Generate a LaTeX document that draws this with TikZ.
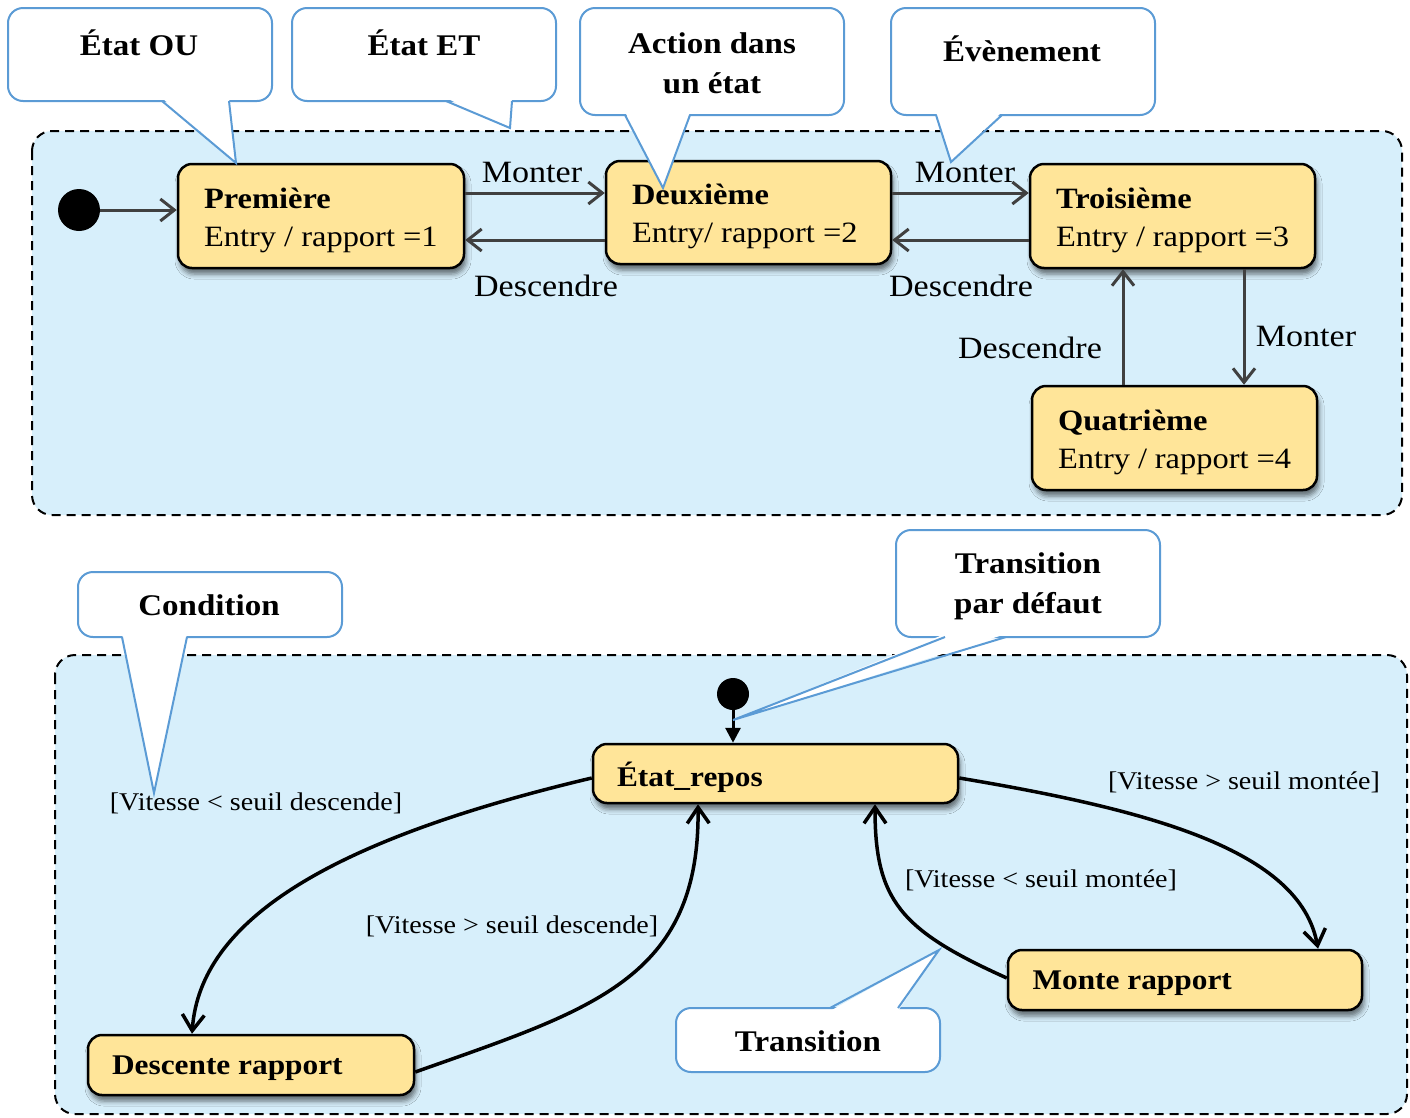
\documentclass[tikz,border=0pt]{standalone}
\usepackage{fontspec}
\setmainfont{Liberation Serif}[FakeStretch=1.1]
\usetikzlibrary{arrows.meta,shadows.blur,calc}

\definecolor{zonebg}{RGB}{215,239,251}
\definecolor{statefill}{RGB}{255,229,153}
\definecolor{callblue}{RGB}{91,155,213}
\definecolor{wire}{RGB}{64,64,64}

\tikzset{
  zonebox/.style={draw=black, line width=2pt, dash pattern=on 9pt off 6pt,
    fill=zonebg, rounded corners=20pt},
  statebox/.style={draw=black, line width=2.5pt, fill=statefill,
    rounded corners=14pt, inner sep=0pt, align=left,
    blur shadow={shadow xshift=2pt, shadow yshift=-6pt,
      shadow blur radius=5pt, shadow opacity=55}},
  callbox/.style={draw=callblue, line width=2pt, fill=white,
    rounded corners=15pt, inner sep=0pt},
  callside/.style={draw=callblue, line width=2pt},
  calltext/.style={font=\fontsize{30}{40}\selectfont\bfseries, align=center},
  evlabel/.style={font=\fontsize{31}{36}\selectfont, inner sep=0pt},
  guard/.style={font=\fontsize{25.5}{30}\selectfont, inner sep=0pt},
  topwire/.style={draw=wire, line width=3pt,
    -{Straight Barb[length=14pt,width=22pt]}},
  botwire/.style={draw=black, line width=3.5pt,
    -{Straight Barb[length=16pt,width=22pt]}},
  initdot/.style={circle, fill=black, inner sep=0pt},
}

% two-line state body: bold name, then entry action
\newcommand{\gearbody}[3]{\begin{minipage}{#1}\vspace*{8pt}\fontsize{29.5}{38}\selectfont\textbf{#2}\\#3\end{minipage}}
% one-line state body
\newcommand{\modebody}[2]{\begin{minipage}{#1}\vspace*{7pt}\fontsize{28.5}{34}\selectfont\textbf{#2}\end{minipage}}

\begin{document}
\begin{tikzpicture}[x=1pt, y=-1pt]
\useasboundingbox (0,0) rectangle (1410,1117);

% ---------- containers ----------
\path[zonebox] (32,131) rectangle (1402,515);
\path[zonebox] (55,655) rectangle (1407,1114);

% ---------- upper machine: gear states ----------
\node[initdot, minimum size=42pt] (i1) at (79,210) {};

\node[statebox, minimum width=286pt, minimum height=104pt] (s1) at (321,216)
  {\gearbody{234pt}{Première}{Entry / rapport =1}};
\node[statebox, minimum width=285pt, minimum height=103pt] (s2) at (748.5,212.5)
  {\gearbody{233pt}{Deuxième}{Entry/ rapport =2}};
\node[statebox, minimum width=285pt, minimum height=104pt] (s3) at (1172.5,216)
  {\gearbody{233pt}{Troisième}{Entry / rapport =3}};
\node[statebox, minimum width=285pt, minimum height=104pt] (s4) at (1174.5,438)
  {\gearbody{233pt}{Quatrième}{Entry / rapport =4}};

\draw[topwire] (i1.east) -- (i1.east -| s1.west);
\draw[topwire] (s1.east |- 0,193) -- (s2.west |- 0,193);
\draw[topwire] (s2.west |- 0,240) -- (s1.east |- 0,240);
\draw[topwire] (s2.east |- 0,193) -- (s3.west |- 0,193);
\draw[topwire] (s3.west |- 0,240) -- (s2.east |- 0,240);
\draw[topwire] (s3.south -| 1244,0) -- (s4.north -| 1244,0);
\draw[topwire] (s4.north -| 1123,0) -- (s3.south -| 1123,0);

\node[evlabel] (l1) at (532,172) {Monter};
\node[evlabel] (l2) at (546,286) {Descendre};
\node[evlabel] (l3) at (965,172) {Monter};
\node[evlabel] (l4) at (961,286) {Descendre};
\node[evlabel] (l5) at (1306,336) {Monter};
\node[evlabel] (l6) at (1030,348) {Descendre};

% ---------- lower machine: speed guards ----------
\node[initdot, minimum size=32pt] (i2) at (733,694) {};

\node[statebox, minimum width=365pt, minimum height=59pt] (r) at (775.5,773.5)
  {\modebody{317pt}{État\_repos}};
\node[statebox, minimum width=326pt, minimum height=60pt] (d) at (251,1065)
  {\modebody{278pt}{Descente rapport}};
\node[statebox, minimum width=354pt, minimum height=60pt] (m) at (1185,980)
  {\modebody{305pt}{Monte rapport}};

\draw[draw=black, line width=3pt, -{Triangle[length=15pt,width=15pt]}]
  (i2.south) -- (i2.south |- r.north);

\draw[botwire] (r.west |- 0,778) .. controls (330,840) and (200,920) .. (d.north -| 192,0);
\draw[botwire] (d.east |- 0,1072) .. controls (590,1010) and (700,980) .. (r.south -| 698,0);
\draw[botwire] (r.east |- 0,778) .. controls (1150,810) and (1300,850) .. (m.north -| 1318,0);
\draw[botwire] (m.west |- 0,978) .. controls (900,930) and (875,900) .. (r.south -| 875,0);

\node[guard] (g1) at (256,803) {[Vitesse < seuil descende]};
\node[guard] (g2) at (512,926) {[Vitesse > seuil descende]};
\node[guard] (g3) at (1244,782) {[Vitesse > seuil montée]};
\node[guard] (g4) at (1041,880) {[Vitesse < seuil montée]};

% ---------- callouts ----------
% État OU
\node[callbox, minimum width=264pt, minimum height=93pt] (c1) at (140,54.5) {};
\coordinate (c1t) at (236,163);
\fill[white] (162,98) -- (c1t) -- (229,98) -- cycle;
\draw[callside] (162,101) -- (c1t) -- (229,101);
\node[calltext] (c1x) at (139,43) {État OU};

% État ET
\node[callbox, minimum width=264pt, minimum height=93pt] (c2) at (424,54.5) {};
\coordinate (c2t) at (510,128);
\fill[white] (446,98) -- (c2t) -- (512,98) -- cycle;
\draw[callside] (446,101) -- (c2t) -- (512,101);
\node[calltext] (c2x) at (424,43) {État ET};

% Action dans un état
\node[callbox, minimum width=264pt, minimum height=107pt] (c3) at (712,61.5) {};
\coordinate (c3t) at (663,188);
\fill[white] (625,112) -- (c3t) -- (690,112) -- cycle;
\draw[callside] (625,115) -- (c3t) -- (690,115);
\node[calltext] (c3x) at (712,63) {Action dans\\un état};

% Évènement
\node[callbox, minimum width=264pt, minimum height=107pt] (c4) at (1023,61.5) {};
\coordinate (c4t) at (951,162);
\fill[white] (936,112) -- (c4t) -- (1002,112) -- cycle;
\draw[callside] (936,115) -- (c4t) -- (1002,115);
\node[calltext] (c4x) at (1022,49) {Évènement};

% Condition
\node[callbox, minimum width=264pt, minimum height=65pt] (c5) at (210,604.5) {};
\coordinate (c5t) at (154,793);
\fill[white] (122,634) -- (c5t) -- (187,634) -- cycle;
\draw[callside] (122,637) -- (c5t) -- (187,637);
\node[calltext] (c5x) at (209,605) {Condition};

% Transition par défaut
\node[callbox, minimum width=264pt, minimum height=107pt] (c6) at (1028,583.5) {};
\coordinate (c6t) at (733,720);
\fill[white] (945,634) -- (c6t) -- (1006,634) -- cycle;
\draw[callside] (945,637) -- (c6t) -- (1006,637);
\node[calltext] (c6x) at (1028,586.5) {Transition\\par défaut};

% Transition
\node[callbox, minimum width=264pt, minimum height=64pt] (c7) at (808,1040) {};
\coordinate (c7t) at (939,950);
\fill[white] (830,1011) -- (c7t) -- (898,1011) -- cycle;
\draw[callside] (830,1008) -- (c7t) -- (898,1008);
\node[calltext] (c7x) at (808,1041) {Transition};

\end{tikzpicture}
\end{document}
